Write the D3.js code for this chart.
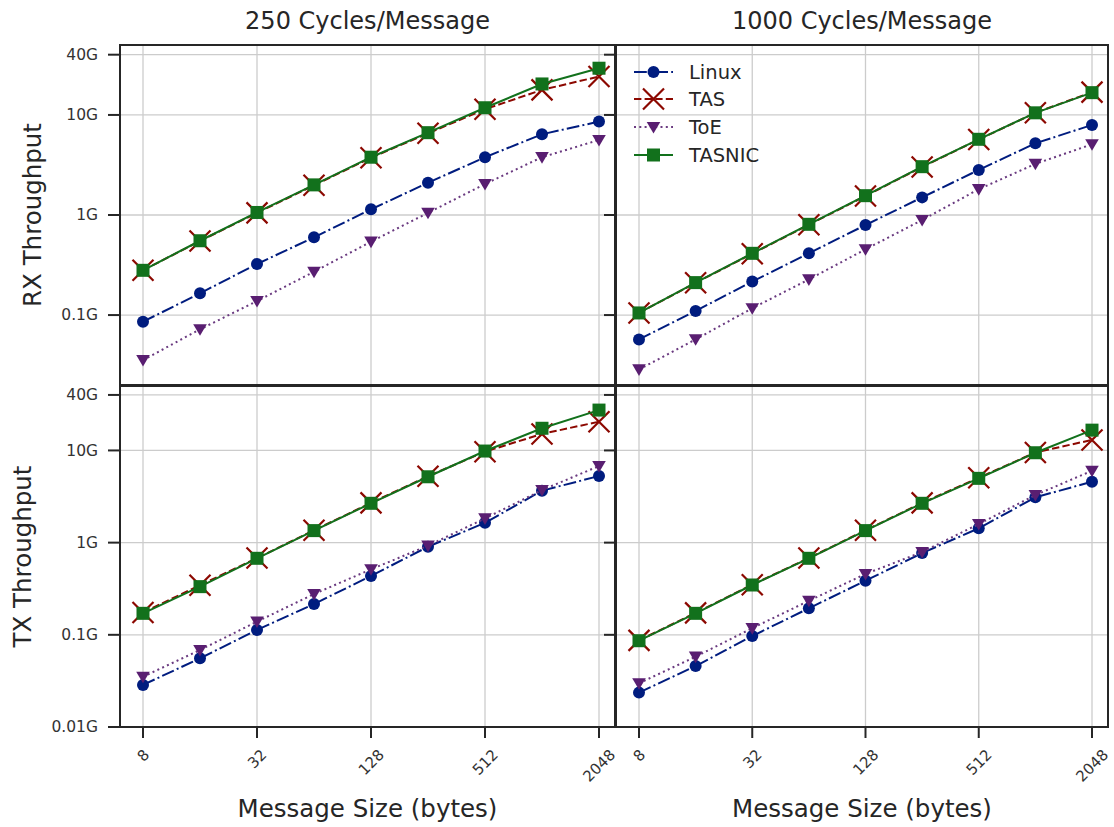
<!DOCTYPE html>
<html><head><meta charset="utf-8">
<script src="https://cdn.jsdelivr.net/npm/d3@7"></script>
<style>body{margin:0;background:#fff;} text{font-family:"DejaVu Sans",sans-serif;}</style>
</head><body><svg id="c" width="1114" height="827"></svg>
<script>
const sizes = [8, 16, 32, 64, 128, 256, 512, 1024, 2048];
const xTicks = [8, 32, 128, 512, 2048];
const seriesNames = ["Linux", "TAS", "ToE", "TASNIC"];
const colTitles = ["250 Cycles/Message", "1000 Cycles/Message"];
const rowLabels = ["RX Throughput", "TX Throughput"];
const xLabel = "Message Size (bytes)";
const yTicksRX = [0.1, 1, 10, 40];
const yTicksTX = [0.01, 0.1, 1, 10, 40];
const yTickLabel = {0.01: "0.01G", 0.1: "0.1G", 1: "1G", 10: "10G", 40: "40G"};

// RX, 250 cycles
const rx250Linux  = [0.0858, 0.165, 0.324, 0.598, 1.14, 2.10, 3.78, 6.41, 8.58];
const rx250TAS    = [0.28, 0.55, 1.05, 1.98, 3.74, 6.55, 11.4, 17.8, 24.2];
const rx250ToE    = [0.0355, 0.072, 0.138, 0.271, 0.541, 1.05, 2.04, 3.78, 5.62];
const rx250TASNIC = [0.28, 0.553, 1.06, 2.0, 3.78, 6.65, 11.8, 20.4, 29.3];
// RX, 1000 cycles
const rx1000Linux  = [0.0571, 0.110, 0.216, 0.414, 0.794, 1.50, 2.82, 5.21, 7.94];
const rx1000TAS    = [0.105, 0.21, 0.41, 0.80, 1.55, 3.02, 5.68, 10.5, 16.9];
const rx1000ToE    = [0.0286, 0.0571, 0.117, 0.227, 0.454, 0.891, 1.81, 3.24, 5.09];
const rx1000TASNIC = [0.105, 0.211, 0.414, 0.807, 1.56, 3.04, 5.71, 10.5, 16.7];
// TX, 250 cycles
const tx250Linux  = [0.0286, 0.0556, 0.113, 0.216, 0.435, 0.903, 1.64, 3.66, 5.28];
const tx250TAS    = [0.175, 0.345, 0.68, 1.36, 2.70, 5.25, 9.7, 15.1, 20.5];
const tx250ToE    = [0.0351, 0.0684, 0.139, 0.277, 0.513, 0.926, 1.83, 3.71, 6.77];
const tx250TASNIC = [0.171, 0.333, 0.676, 1.35, 2.67, 5.18, 9.85, 17.4, 27.4];
// TX, 1000 cycles
const tx1000Linux  = [0.0236, 0.0459, 0.097, 0.194, 0.386, 0.77, 1.43, 3.10, 4.58];
const tx1000TAS    = [0.087, 0.173, 0.35, 0.68, 1.36, 2.70, 5.05, 9.5, 13.0];
const tx1000ToE    = [0.0298, 0.0579, 0.118, 0.234, 0.457, 0.79, 1.59, 3.28, 6.02];
const tx1000TASNIC = [0.0863, 0.171, 0.347, 0.676, 1.35, 2.67, 4.98, 9.44, 16.6];

const colors = {Linux: "#001c7f", TAS: "#8c0800", ToE: "#591e71", TASNIC: "#12711c"};
const lineColors = {Linux: "#001c7f", TAS: "#8c0800", ToE: "#6a3a80", TASNIC: "#12711c"};
const dashes = {Linux: "12.8,3.2,2,3.2", TAS: "7.4,3.2", ToE: "2,3.3", TASNIC: null};

const svg = d3.select("#c");
const textCol = "#262626";

const panels = [
  {row: 0, col: 0, data: [rx250Linux, rx250TAS, rx250ToE, rx250TASNIC]},
  {row: 0, col: 1, data: [rx1000Linux, rx1000TAS, rx1000ToE, rx1000TASNIC]},
  {row: 1, col: 0, data: [tx250Linux, tx250TAS, tx250ToE, tx250TASNIC]},
  {row: 1, col: 1, data: [tx1000Linux, tx1000TAS, tx1000ToE, tx1000TASNIC]},
];
const colBox = [{l: 120, r: 615}, {l: 616, r: 1108}];
const rowBox = [{t: 45, b: 385, dom: [0.02, 50], ticks: yTicksRX}, {t: 386, b: 727, dom: [0.01, 50], ticks: yTicksTX}];

function marker(g, name, cx, cy) {
  const c = colors[name];
  if (name === "Linux") {
    g.append("circle").attr("cx", cx).attr("cy", cy).attr("r", 6).attr("fill", c);
  } else if (name === "TAS") {
    const s = 10.5;
    g.append("path").attr("d", `M${cx-s},${cy-s}L${cx+s},${cy+s}M${cx-s},${cy+s}L${cx+s},${cy-s}`)
      .attr("stroke", c).attr("stroke-width", 2.2).attr("fill", "none");
  } else if (name === "ToE") {
    const s = 6.8;
    g.append("path").attr("d", `M${cx-s},${cy-s*0.75}L${cx+s},${cy-s*0.75}L${cx},${cy+s*0.95}Z`).attr("fill", c);
  } else {
    const s = 6.5;
    g.append("rect").attr("x", cx-s).attr("y", cy-s).attr("width", 2*s).attr("height", 2*s).attr("fill", c);
  }
}

panels.forEach(p => {
  const cb = colBox[p.col], rb = rowBox[p.row];
  const x = d3.scaleLog().base(2).domain([8, 2048]).range([cb.l + 23, cb.r - 16]);
  const y = d3.scaleLog().domain(rb.dom).range([rb.b, rb.t]);
  const g = svg.append("g");
  // grid
  xTicks.forEach(t => g.append("line").attr("x1", x(t)).attr("x2", x(t)).attr("y1", rb.t).attr("y2", rb.b)
    .attr("stroke", "#cccccc").attr("stroke-width", 1.3));
  rb.ticks.forEach(t => g.append("line").attr("x1", cb.l).attr("x2", cb.r).attr("y1", y(t)).attr("y2", y(t))
    .attr("stroke", "#cccccc").attr("stroke-width", 1.3));
  // lines
  seriesNames.forEach((name, i) => {
    const vals = p.data[i];
    const line = d3.line().x((d, j) => x(sizes[j])).y(d => y(d));
    const path = g.append("path").datum(vals).attr("d", line).attr("fill", "none")
      .attr("stroke", lineColors[name]).attr("stroke-width", 2);
    if (dashes[name]) path.attr("stroke-dasharray", dashes[name]);
    const mg = g.append("g");
    vals.forEach((v, j) => marker(mg, name, x(sizes[j]), y(v)));
  });
  // frame
  g.append("rect").attr("x", cb.l).attr("y", rb.t).attr("width", cb.r - cb.l).attr("height", rb.b - rb.t)
    .attr("fill", "none").attr("stroke", "#262626").attr("stroke-width", 2);
  // y ticks (outward left)
  rb.ticks.forEach(t => {
    g.append("line").attr("x1", cb.l - 12).attr("x2", cb.l).attr("y1", y(t)).attr("y2", y(t))
      .attr("stroke", "#262626").attr("stroke-width", 2);
    if (p.col === 0) {
      g.append("text").attr("x", cb.l - 22).attr("y", y(t)).attr("dy", "0.35em").attr("text-anchor", "end")
        .attr("font-size", 15.5).attr("fill", "#333").text(yTickLabel[t]);
    }
  });
  // x ticks on bottom row
  if (p.row === 1) {
    xTicks.forEach(t => {
      g.append("line").attr("x1", x(t)).attr("x2", x(t)).attr("y1", rb.b).attr("y2", rb.b + 11)
        .attr("stroke", "#262626").attr("stroke-width", 2);
      const lbl = String(t);
      const fs = 15;
      const w = lbl.length * 0.636 * fs, h = 0.73 * fs;
      const half = (w + h) * 0.707 / 2;
      g.append("text").attr("transform", `translate(${x(t)},${rb.b + 21 + half}) rotate(-45)`)
        .attr("text-anchor", "middle").attr("dy", "0.36em").attr("font-size", fs).attr("fill", "#333").text(lbl);
    });
    svg.append("text").attr("x", (cb.l + cb.r) / 2).attr("y", 817).attr("text-anchor", "middle")
      .attr("font-size", 24.5).attr("fill", textCol).text(xLabel);
  }
  if (p.row === 0) {
    svg.append("text").attr("x", (cb.l + cb.r) / 2).attr("y", 29).attr("text-anchor", "middle")
      .attr("font-size", 24).attr("fill", textCol).text(colTitles[p.col]);
  }
  if (p.col === 0) {
    const lx = p.row === 0 ? 41 : 31;
    svg.append("text").attr("transform", `translate(${lx},${(rb.t + rb.b) / 2}) rotate(-90)`)
      .attr("text-anchor", "middle").attr("font-size", 24.5).attr("fill", textCol).text(rowLabels[p.row]);
  }
});

// legend in top-right panel
const lg = svg.append("g");
const legY = [72, 99, 127, 155];
seriesNames.forEach((name, i) => {
  const yy = legY[i];
  const l = lg.append("line").attr("x1", 634).attr("x2", 673).attr("y1", yy).attr("y2", yy)
    .attr("stroke", lineColors[name]).attr("stroke-width", 2);
  if (dashes[name]) l.attr("stroke-dasharray", dashes[name]);
  marker(lg, name, 653.5, yy);
  lg.append("text").attr("x", 689).attr("y", yy).attr("dy", "0.35em").attr("font-size", 19.5)
    .attr("fill", textCol).text(name);
});
</script></body></html>
